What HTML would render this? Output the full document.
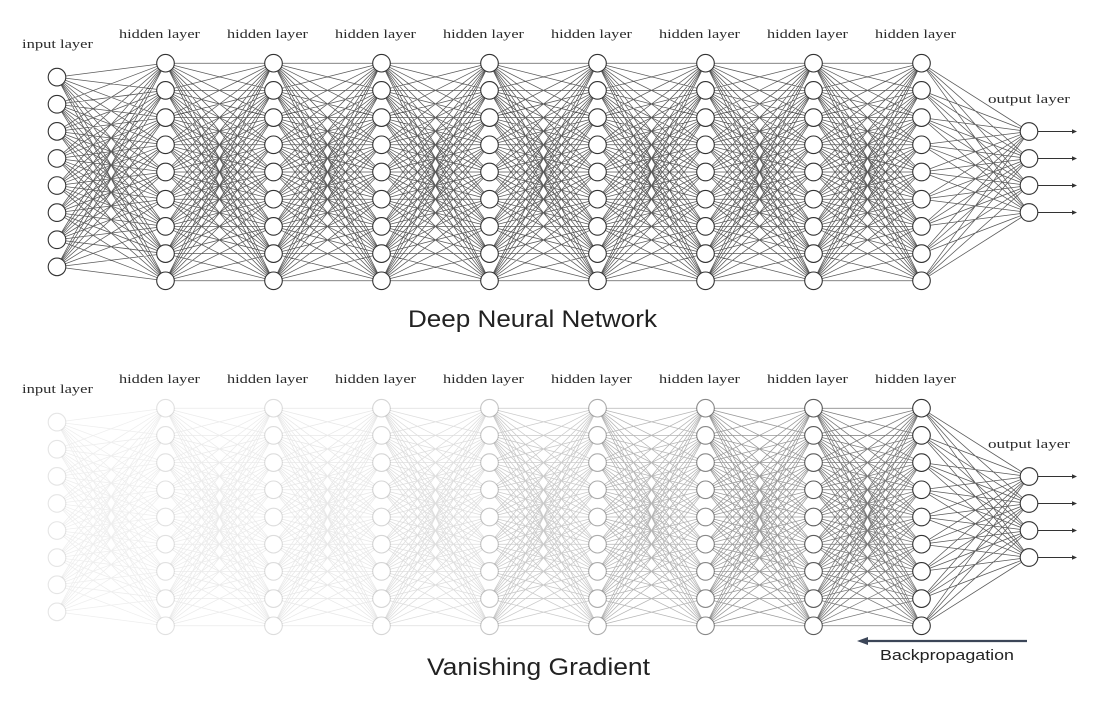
<!DOCTYPE html>
<html><head><meta charset="utf-8"><style>
html,body{margin:0;padding:0;background:#fff;}
svg{display:block;}
.lbl{font-family:"Liberation Serif",serif;font-size:12.5px;fill:#2a2a2a;}
.ttl{font-family:"Liberation Sans",sans-serif;font-size:24px;fill:#222;}
</style></head><body>
<svg width="1106" height="710" viewBox="0 0 1106 710" xmlns="http://www.w3.org/2000/svg">
<defs>
<path id="hb" d="M0-108.8L108-108.8M0-108.8L108-81.6M0-108.8L108-54.4M0-108.8L108-27.2M0-108.8L108 0M0-108.8L108 27.2M0-108.8L108 54.4M0-108.8L108 81.6M0-108.8L108 108.8M0-81.6L108-108.8M0-81.6L108-81.6M0-81.6L108-54.4M0-81.6L108-27.2M0-81.6L108 0M0-81.6L108 27.2M0-81.6L108 54.4M0-81.6L108 81.6M0-81.6L108 108.8M0-54.4L108-108.8M0-54.4L108-81.6M0-54.4L108-54.4M0-54.4L108-27.2M0-54.4L108 0M0-54.4L108 27.2M0-54.4L108 54.4M0-54.4L108 81.6M0-54.4L108 108.8M0-27.2L108-108.8M0-27.2L108-81.6M0-27.2L108-54.4M0-27.2L108-27.2M0-27.2L108 0M0-27.2L108 27.2M0-27.2L108 54.4M0-27.2L108 81.6M0-27.2L108 108.8M0 0L108-108.8M0 0L108-81.6M0 0L108-54.4M0 0L108-27.2M0 0L108 0M0 0L108 27.2M0 0L108 54.4M0 0L108 81.6M0 0L108 108.8M0 27.2L108-108.8M0 27.2L108-81.6M0 27.2L108-54.4M0 27.2L108-27.2M0 27.2L108 0M0 27.2L108 27.2M0 27.2L108 54.4M0 27.2L108 81.6M0 27.2L108 108.8M0 54.4L108-108.8M0 54.4L108-81.6M0 54.4L108-54.4M0 54.4L108-27.2M0 54.4L108 0M0 54.4L108 27.2M0 54.4L108 54.4M0 54.4L108 81.6M0 54.4L108 108.8M0 81.6L108-108.8M0 81.6L108-81.6M0 81.6L108-54.4M0 81.6L108-27.2M0 81.6L108 0M0 81.6L108 27.2M0 81.6L108 54.4M0 81.6L108 81.6M0 81.6L108 108.8M0 108.8L108-108.8M0 108.8L108-81.6M0 108.8L108-54.4M0 108.8L108-27.2M0 108.8L108 0M0 108.8L108 27.2M0 108.8L108 54.4M0 108.8L108 81.6M0 108.8L108 108.8"/>
<path id="ib" d="M0-94.85L108.5-108.8M0-94.85L108.5-81.6M0-94.85L108.5-54.4M0-94.85L108.5-27.2M0-94.85L108.5 0M0-94.85L108.5 27.2M0-94.85L108.5 54.4M0-94.85L108.5 81.6M0-94.85L108.5 108.8M0-67.75L108.5-108.8M0-67.75L108.5-81.6M0-67.75L108.5-54.4M0-67.75L108.5-27.2M0-67.75L108.5 0M0-67.75L108.5 27.2M0-67.75L108.5 54.4M0-67.75L108.5 81.6M0-67.75L108.5 108.8M0-40.65L108.5-108.8M0-40.65L108.5-81.6M0-40.65L108.5-54.4M0-40.65L108.5-27.2M0-40.65L108.5 0M0-40.65L108.5 27.2M0-40.65L108.5 54.4M0-40.65L108.5 81.6M0-40.65L108.5 108.8M0-13.55L108.5-108.8M0-13.55L108.5-81.6M0-13.55L108.5-54.4M0-13.55L108.5-27.2M0-13.55L108.5 0M0-13.55L108.5 27.2M0-13.55L108.5 54.4M0-13.55L108.5 81.6M0-13.55L108.5 108.8M0 13.55L108.5-108.8M0 13.55L108.5-81.6M0 13.55L108.5-54.4M0 13.55L108.5-27.2M0 13.55L108.5 0M0 13.55L108.5 27.2M0 13.55L108.5 54.4M0 13.55L108.5 81.6M0 13.55L108.5 108.8M0 40.65L108.5-108.8M0 40.65L108.5-81.6M0 40.65L108.5-54.4M0 40.65L108.5-27.2M0 40.65L108.5 0M0 40.65L108.5 27.2M0 40.65L108.5 54.4M0 40.65L108.5 81.6M0 40.65L108.5 108.8M0 67.75L108.5-108.8M0 67.75L108.5-81.6M0 67.75L108.5-54.4M0 67.75L108.5-27.2M0 67.75L108.5 0M0 67.75L108.5 27.2M0 67.75L108.5 54.4M0 67.75L108.5 81.6M0 67.75L108.5 108.8M0 94.85L108.5-108.8M0 94.85L108.5-81.6M0 94.85L108.5-54.4M0 94.85L108.5-27.2M0 94.85L108.5 0M0 94.85L108.5 27.2M0 94.85L108.5 54.4M0 94.85L108.5 81.6M0 94.85L108.5 108.8"/>
<path id="ob" d="M0-108.8L107.5-40.5M0-108.8L107.5-13.5M0-108.8L107.5 13.5M0-108.8L107.5 40.5M0-81.6L107.5-40.5M0-81.6L107.5-13.5M0-81.6L107.5 13.5M0-81.6L107.5 40.5M0-54.4L107.5-40.5M0-54.4L107.5-13.5M0-54.4L107.5 13.5M0-54.4L107.5 40.5M0-27.2L107.5-40.5M0-27.2L107.5-13.5M0-27.2L107.5 13.5M0-27.2L107.5 40.5M0 0L107.5-40.5M0 0L107.5-13.5M0 0L107.5 13.5M0 0L107.5 40.5M0 27.2L107.5-40.5M0 27.2L107.5-13.5M0 27.2L107.5 13.5M0 27.2L107.5 40.5M0 54.4L107.5-40.5M0 54.4L107.5-13.5M0 54.4L107.5 13.5M0 54.4L107.5 40.5M0 81.6L107.5-40.5M0 81.6L107.5-13.5M0 81.6L107.5 13.5M0 81.6L107.5 40.5M0 108.8L107.5-40.5M0 108.8L107.5-13.5M0 108.8L107.5 13.5M0 108.8L107.5 40.5"/>
<g id="hn"><circle cx="0" cy="-108.8" r="8.8"/><circle cx="0" cy="-81.6" r="8.8"/><circle cx="0" cy="-54.4" r="8.8"/><circle cx="0" cy="-27.2" r="8.8"/><circle cx="0" cy="0" r="8.8"/><circle cx="0" cy="27.2" r="8.8"/><circle cx="0" cy="54.4" r="8.8"/><circle cx="0" cy="81.6" r="8.8"/><circle cx="0" cy="108.8" r="8.8"/></g>
<g id="inn"><circle cx="0" cy="-94.85" r="8.8"/><circle cx="0" cy="-67.75" r="8.8"/><circle cx="0" cy="-40.65" r="8.8"/><circle cx="0" cy="-13.55" r="8.8"/><circle cx="0" cy="13.55" r="8.8"/><circle cx="0" cy="40.65" r="8.8"/><circle cx="0" cy="67.75" r="8.8"/><circle cx="0" cy="94.85" r="8.8"/></g>
<g id="onn"><circle cx="0" cy="-40.5" r="8.8"/><circle cx="0" cy="-13.5" r="8.8"/><circle cx="0" cy="13.5" r="8.8"/><circle cx="0" cy="40.5" r="8.8"/></g>
<g id="oar"><path d="M1038-40.5H1073M1038-13.5H1073M1038 13.5H1073M1038 40.5H1073" stroke="#333" stroke-width="0.9" fill="none"/><path d="M1077-40.5l-5-2.3v4.6zM1077-13.5l-5-2.3v4.6zM1077 13.5l-5-2.3v4.6zM1077 40.5l-5-2.3v4.6z" fill="#333"/></g>
</defs>

<!-- TOP DIAGRAM -->
<g transform="translate(0,172)">
 <g stroke="#5a5a5a" stroke-width="0.75" fill="none">
  <use href="#ib" x="57"/>
  <use href="#hb" x="165.5"/><use href="#hb" x="273.5"/><use href="#hb" x="381.5"/><use href="#hb" x="489.5"/>
  <use href="#hb" x="597.5"/><use href="#hb" x="705.5"/><use href="#hb" x="813.5"/>
  <use href="#ob" x="921.5"/>
 </g>
 <g fill="#fff" stroke="#333" stroke-width="1.1">
  <use href="#inn" x="57"/>
  <use href="#hn" x="165.5"/><use href="#hn" x="273.5"/><use href="#hn" x="381.5"/><use href="#hn" x="489.5"/>
  <use href="#hn" x="597.5"/><use href="#hn" x="705.5"/><use href="#hn" x="813.5"/><use href="#hn" x="921.5"/>
  <use href="#onn" x="1029"/>
 </g>
 <use href="#oar"/>
</g>
<text class="lbl" x="57.5" y="48" text-anchor="middle" textLength="71" lengthAdjust="spacingAndGlyphs">input layer</text>
<text class="lbl" x="159.5" y="38" text-anchor="middle" textLength="81" lengthAdjust="spacingAndGlyphs">hidden layer</text>
<text class="lbl" x="267.5" y="38" text-anchor="middle" textLength="81" lengthAdjust="spacingAndGlyphs">hidden layer</text>
<text class="lbl" x="375.5" y="38" text-anchor="middle" textLength="81" lengthAdjust="spacingAndGlyphs">hidden layer</text>
<text class="lbl" x="483.5" y="38" text-anchor="middle" textLength="81" lengthAdjust="spacingAndGlyphs">hidden layer</text>
<text class="lbl" x="591.5" y="38" text-anchor="middle" textLength="81" lengthAdjust="spacingAndGlyphs">hidden layer</text>
<text class="lbl" x="699.5" y="38" text-anchor="middle" textLength="81" lengthAdjust="spacingAndGlyphs">hidden layer</text>
<text class="lbl" x="807.5" y="38" text-anchor="middle" textLength="81" lengthAdjust="spacingAndGlyphs">hidden layer</text>
<text class="lbl" x="915.5" y="38" text-anchor="middle" textLength="81" lengthAdjust="spacingAndGlyphs">hidden layer</text>
<text class="lbl" x="1029" y="103" text-anchor="middle" textLength="82" lengthAdjust="spacingAndGlyphs">output layer</text>
<text class="ttl" x="408" y="327" textLength="249" lengthAdjust="spacingAndGlyphs">Deep Neural Network</text>

<!-- BOTTOM DIAGRAM -->
<g transform="translate(0,517)">
 <g stroke="#5a5a5a" stroke-width="0.75" fill="none">
  <use href="#ib" x="57" opacity="0.1"/>
  <use href="#hb" x="165.5" opacity="0.12"/>
  <use href="#hb" x="273.5" opacity="0.14"/>
  <use href="#hb" x="381.5" opacity="0.2"/>
  <use href="#hb" x="489.5" opacity="0.32"/>
  <use href="#hb" x="597.5" opacity="0.45"/>
  <use href="#hb" x="705.5" opacity="0.62"/>
  <use href="#hb" x="813.5" opacity="0.82"/>
  <use href="#ob" x="921.5"/>
 </g>
 <g fill="#fff" stroke="#333" stroke-width="1.1">
  <use href="#inn" x="57" stroke-opacity="0.13"/>
  <use href="#hn" x="165.5" stroke-opacity="0.15"/>
  <use href="#hn" x="273.5" stroke-opacity="0.17"/>
  <use href="#hn" x="381.5" stroke-opacity="0.2"/>
  <use href="#hn" x="489.5" stroke-opacity="0.28"/>
  <use href="#hn" x="597.5" stroke-opacity="0.4"/>
  <use href="#hn" x="705.5" stroke-opacity="0.58"/>
  <use href="#hn" x="813.5" stroke-opacity="0.8"/>
  <use href="#hn" x="921.5"/>
  <use href="#onn" x="1029"/>
 </g>
 <use href="#oar"/>
</g>
<text class="lbl" x="57.5" y="393" text-anchor="middle" textLength="71" lengthAdjust="spacingAndGlyphs">input layer</text>
<text class="lbl" x="159.5" y="383" text-anchor="middle" textLength="81" lengthAdjust="spacingAndGlyphs">hidden layer</text>
<text class="lbl" x="267.5" y="383" text-anchor="middle" textLength="81" lengthAdjust="spacingAndGlyphs">hidden layer</text>
<text class="lbl" x="375.5" y="383" text-anchor="middle" textLength="81" lengthAdjust="spacingAndGlyphs">hidden layer</text>
<text class="lbl" x="483.5" y="383" text-anchor="middle" textLength="81" lengthAdjust="spacingAndGlyphs">hidden layer</text>
<text class="lbl" x="591.5" y="383" text-anchor="middle" textLength="81" lengthAdjust="spacingAndGlyphs">hidden layer</text>
<text class="lbl" x="699.5" y="383" text-anchor="middle" textLength="81" lengthAdjust="spacingAndGlyphs">hidden layer</text>
<text class="lbl" x="807.5" y="383" text-anchor="middle" textLength="81" lengthAdjust="spacingAndGlyphs">hidden layer</text>
<text class="lbl" x="915.5" y="383" text-anchor="middle" textLength="81" lengthAdjust="spacingAndGlyphs">hidden layer</text>
<text class="lbl" x="1029" y="448" text-anchor="middle" textLength="82" lengthAdjust="spacingAndGlyphs">output layer</text>

<!-- Backpropagation arrow -->
<line x1="1027" y1="641" x2="866" y2="641" stroke="#3c4658" stroke-width="2.2"/>
<polygon points="857,641 868,637 868,645" fill="#3c4658"/>
<text x="880" y="660" font-family="Liberation Sans, sans-serif" font-size="15" fill="#222" textLength="134" lengthAdjust="spacingAndGlyphs">Backpropagation</text>

<text class="ttl" x="427" y="675" textLength="223" lengthAdjust="spacingAndGlyphs">Vanishing Gradient</text>
</svg>
</body></html>
